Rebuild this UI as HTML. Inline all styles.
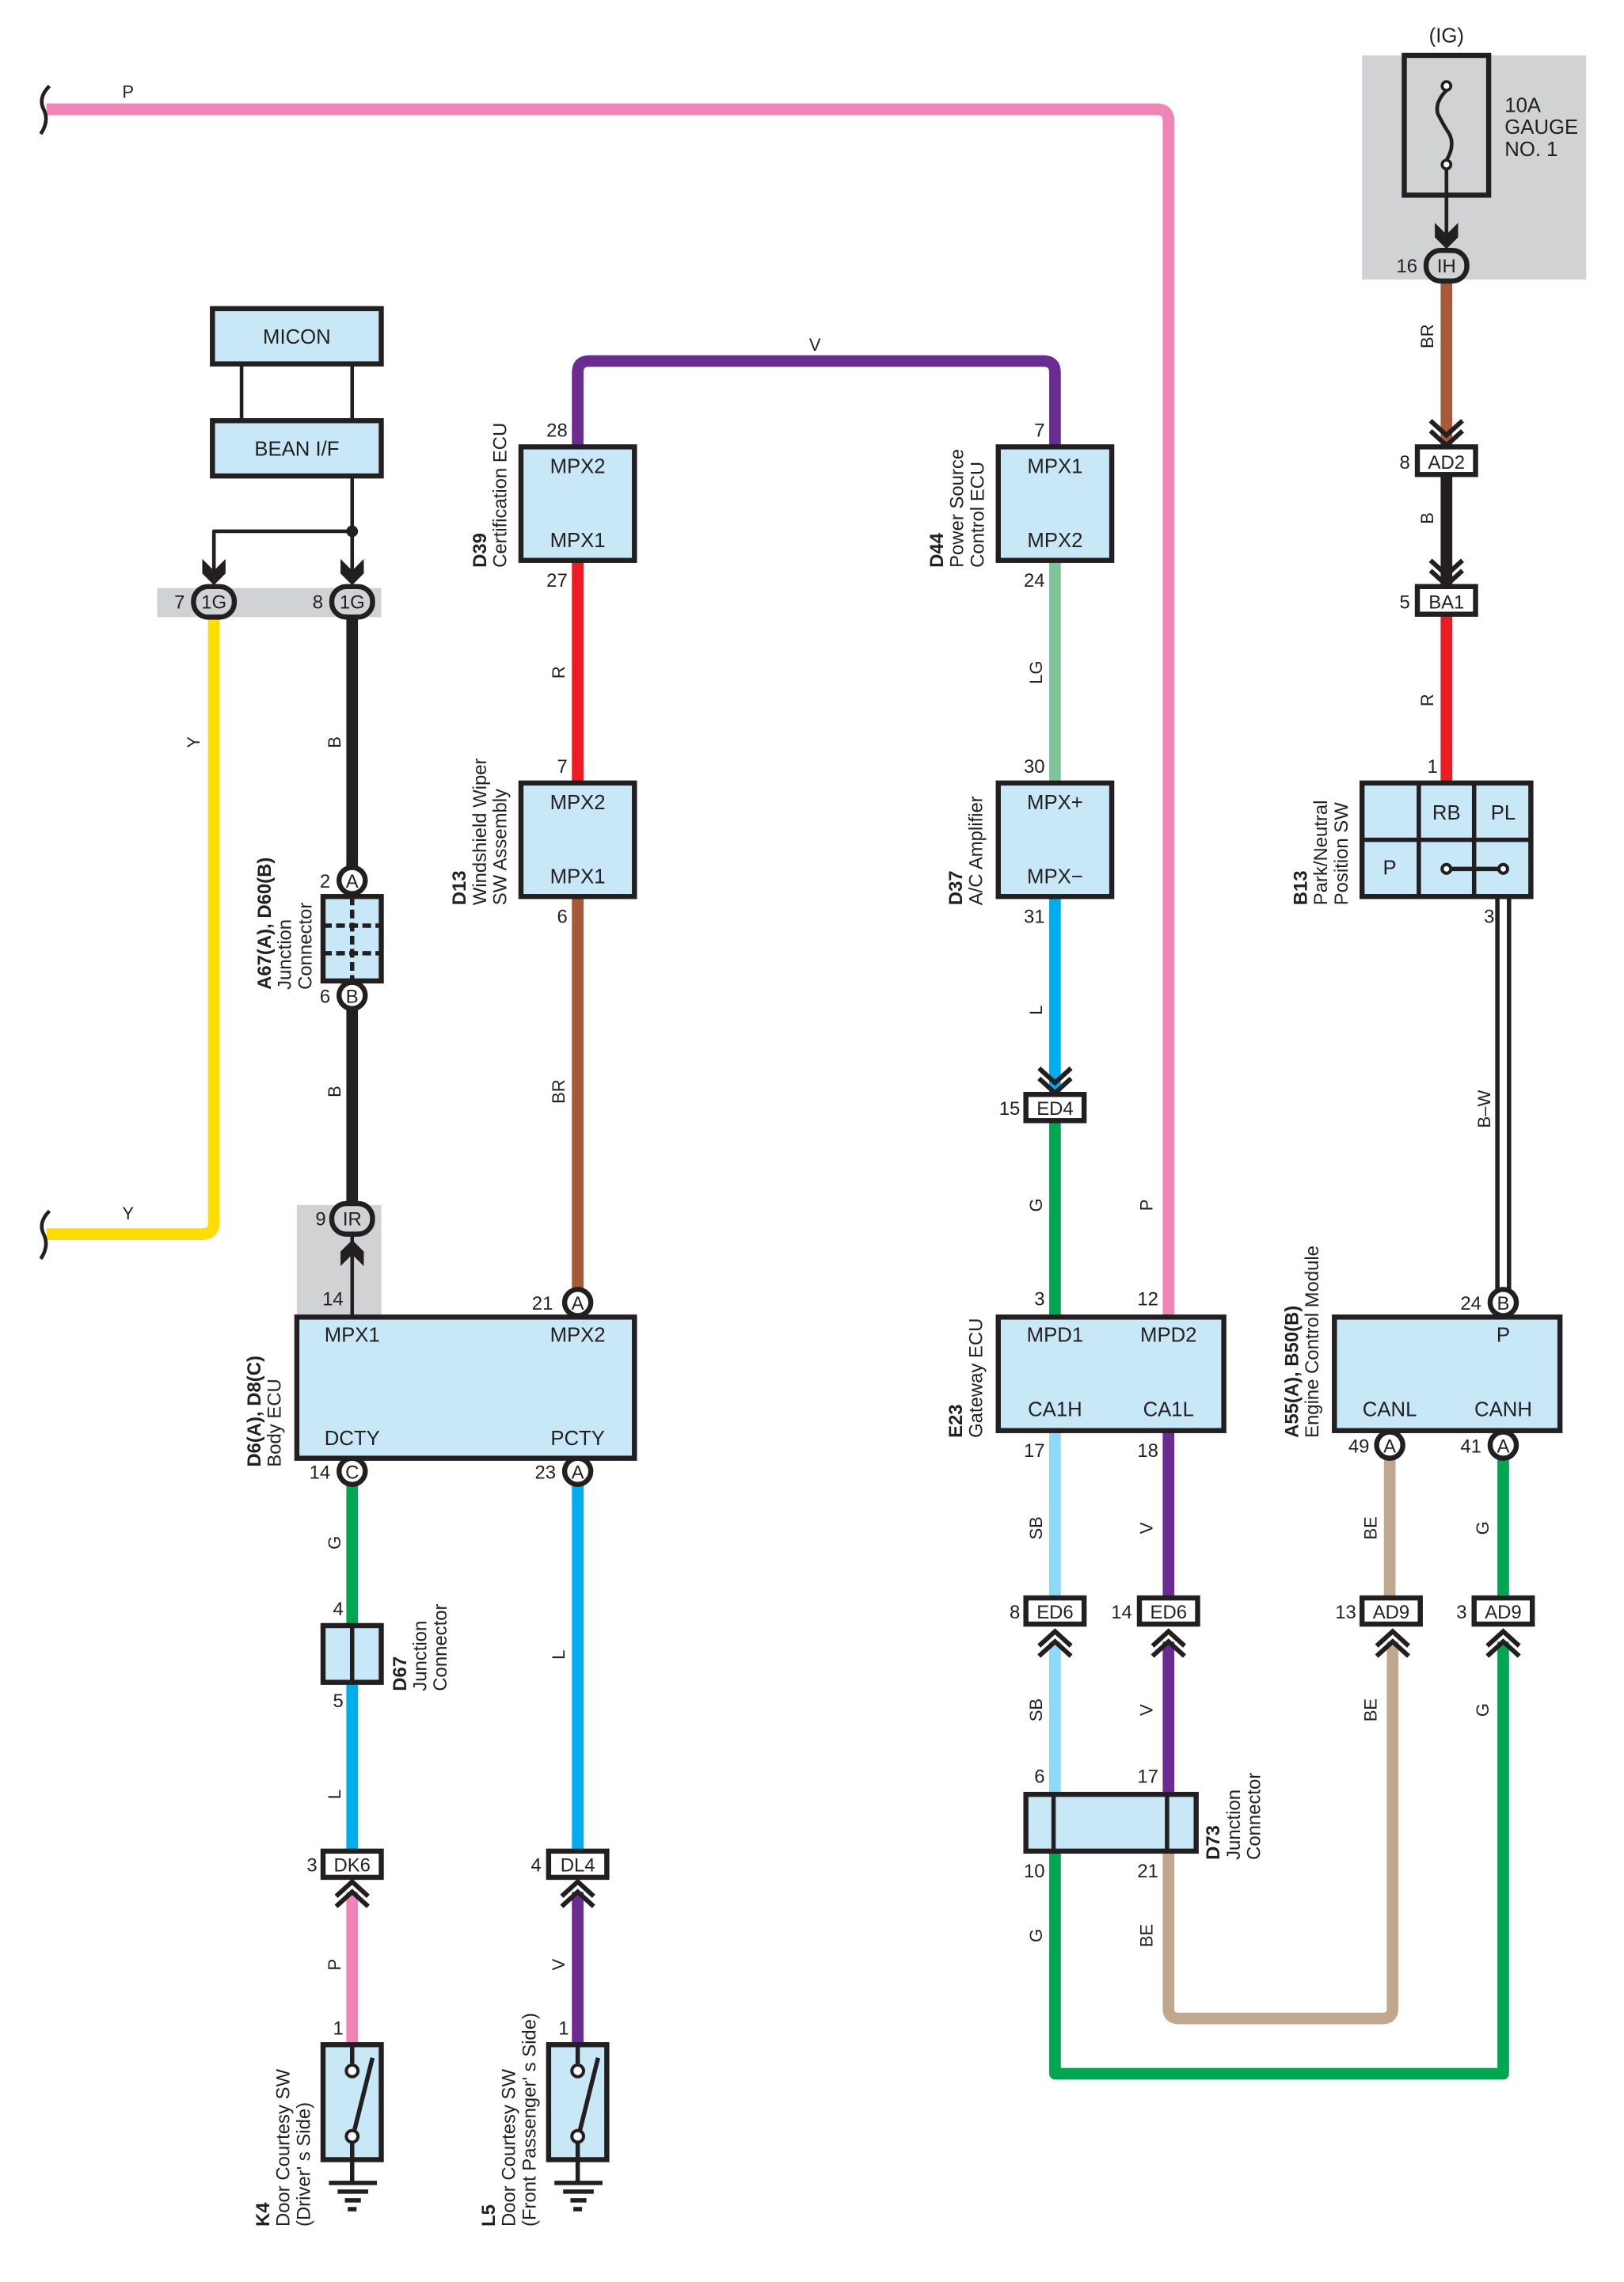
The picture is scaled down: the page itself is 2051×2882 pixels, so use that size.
<!DOCTYPE html>
<html><head><meta charset="utf-8"><style>
html,body{margin:0;padding:0;background:#fff}
svg{display:block}
text{font-family:"Liberation Sans",sans-serif;fill:#231f20}
.b{font-size:14px}.p{font-size:13px}.w{font-size:12px}.l{font-size:13px}.bold{font-weight:bold}
</style></head><body>
<svg width="2051" height="2882" viewBox="0 0 1116 1568" xmlns="http://www.w3.org/2000/svg">
<defs>
<g id="cu"><path d="M-11,10 L0,0 L11,10 M-11,17 L0,7 L11,17" fill="none" stroke="#231f20" stroke-width="3.2"/></g>
<g id="cd"><path d="M-11,-10 L0,0 L11,-10 M-11,-17 L0,-7 L11,-17" fill="none" stroke="#231f20" stroke-width="3.2"/></g>
<g id="ad"><path d="M-8,-14 L-8,-4 L0,4 L8,-4 L8,-14 L0,-6 Z" fill="#231f20"/></g>
<g id="au"><path d="M-8,14 L-8,4 L0,-4 L8,4 L8,14 L0,6 Z" fill="#231f20"/></g>
</defs>
<g fill="none" stroke-linejoin="round" stroke-linecap="butt">
<rect x="108" y="404" width="154" height="20" fill="#d1d2d4"/>
<rect x="204" y="828" width="58" height="77" fill="#d1d2d4"/>
<rect x="936" y="38" width="154" height="154" fill="#d1d2d4"/>
<path d="M32,75 H795 Q803,75 803,83 V905" stroke="#f184b7" stroke-width="8"/>
<path d="M147,424 V840 Q147,848 139,848 H32" stroke="#ffdd00" stroke-width="8"/>
<path d="M242,424 V597 M242,694 V828" stroke="#231f20" stroke-width="8"/>
<path d="M397,307 V256 Q397,248 405,248 H717 Q725,248 725,256 V307" stroke="#6b2c91" stroke-width="8"/>
<path d="M397,385 V538" stroke="#ed1c24" stroke-width="8"/>
<path d="M397,616 V885" stroke="#a65a37" stroke-width="8"/>
<path d="M725,385 V538" stroke="#7fc49a" stroke-width="8"/>
<path d="M725,616 V752" stroke="#00aeef" stroke-width="8"/>
<path d="M725,770 V905" stroke="#00a651" stroke-width="8"/>
<path d="M994,192 V307" stroke="#a65a37" stroke-width="8"/>
<path d="M994,326 V403" stroke="#231f20" stroke-width="8"/>
<path d="M994,422 V538" stroke="#ed1c24" stroke-width="8"/>
<path d="M1029,616 V886 M1037,616 V886" stroke="#231f20" stroke-width="3"/>
<path d="M242,1021 V1117" stroke="#00a651" stroke-width="8"/>
<path d="M242,1156 V1272" stroke="#00aeef" stroke-width="8"/>
<path d="M242,1300 V1405" stroke="#f184b7" stroke-width="8"/>
<path d="M397,1021 V1272" stroke="#00aeef" stroke-width="8"/>
<path d="M397,1300 V1405" stroke="#6b2c91" stroke-width="8"/>
<path d="M725,983 V1098 M725,1128 V1233" stroke="#8ed8f8" stroke-width="8"/>
<path d="M803,983 V1098 M803,1128 V1233" stroke="#6b2c91" stroke-width="8"/>
<path d="M725,1272 V1425 H1033 V1128 M1033,1003 V1098" stroke="#00a651" stroke-width="8"/>
<path d="M803,1272 V1380 Q803,1387 810,1387 H950 Q957,1387 957,1380 V1128 M955,1003 V1098" stroke="#bfa88e" stroke-width="8"/>
<path d="M34,59 Q26,67 30,75 Q34,83 28,92" stroke="#231f20" stroke-width="2.5"/>
<path d="M34,832 Q26,840 30,848 Q34,856 28,865" stroke="#231f20" stroke-width="2.5"/>
<path d="M166,250 V289 M242,250 V289 M242,327 V398 M242,365 H147 V398 M242,848 V905 M994,116 V168" stroke="#231f20" stroke-width="2.5"/>
</g>
<circle cx="242" cy="365" r="4" fill="#231f20"/>
<use href="#ad" x="147" y="398"/><use href="#ad" x="242" y="398"/>
<use href="#au" x="242" y="856"/><use href="#ad" x="994" y="167"/>
<use href="#cd" x="994" y="306"/><use href="#cd" x="994" y="402"/><use href="#cd" x="725" y="751"/>
<use href="#cu" x="242" y="1293"/><use href="#cu" x="397" y="1293"/>
<use href="#cu" x="725" y="1121"/><use href="#cu" x="803" y="1121"/><use href="#cu" x="957" y="1121"/><use href="#cu" x="1033" y="1121"/>
<g fill="#c8e8f8" stroke="#231f20" stroke-width="3.5">
<rect x="146" y="212" width="116" height="38"/>
<rect x="146" y="289" width="116" height="38"/>
<rect x="358" y="307" width="78" height="78"/>
<rect x="358" y="538" width="78" height="78"/>
<rect x="686" y="307" width="78" height="78"/>
<rect x="686" y="538" width="78" height="78"/>
<rect x="936" y="538" width="116" height="78"/>
<rect x="222" y="616" width="40" height="58"/>
<rect x="204" y="905" width="232" height="97"/>
<rect x="686" y="905" width="155" height="78"/>
<rect x="917" y="905" width="155" height="78"/>
<rect x="222" y="1117" width="40" height="39"/>
<rect x="705" y="1233" width="117" height="39"/>
<rect x="222" y="1405" width="40" height="79"/>
<rect x="377" y="1405" width="40" height="79"/>
</g>
<rect x="965" y="38" width="58" height="96" fill="none" stroke="#231f20" stroke-width="3.5"/>
<path d="M994,62 Q986,70 988,78 Q992,86 996,92 Q1000,100 994,110" fill="none" stroke="#231f20" stroke-width="2.5"/>
<g fill="#fff" stroke="#231f20" stroke-width="2"><circle cx="994" cy="59" r="3"/><circle cx="994" cy="113" r="3"/></g>
<g stroke="#231f20" stroke-width="3" fill="none">
<path d="M975,538 V616 M1013,538 V616 M936,577 H1052"/>
<path d="M994,597 H1033"/>
<path d="M222,636 H262 M222,655 H262 M242,616 V674" stroke-dasharray="6,3"/>
<path d="M242,1117 V1156"/>
<path d="M724,1233 V1272 M802,1233 V1272"/>
<path d="M242,1405 V1418 M242,1472 V1500 M256,1414 L242,1470 M397,1405 V1418 M397,1472 V1500 M411,1414 L397,1470"/>
<path d="M226,1500 H259 M232,1506 H253 M237,1512 H248 M239,1518 H245 M381,1500 H414 M387,1506 H408 M392,1512 H403 M394,1518 H400"/>
</g>
<g fill="#fff" stroke="#231f20" stroke-width="2.2"><circle cx="994" cy="597" r="3"/><circle cx="1033" cy="597" r="3"/><circle cx="242" cy="1423" r="4"/><circle cx="242" cy="1468" r="4"/><circle cx="397" cy="1423" r="4"/><circle cx="397" cy="1468" r="4"/></g>
<g fill="#d1d2d4" stroke="#231f20" stroke-width="3.5">
<rect x="133" y="403" width="28" height="21" rx="10"/>
<rect x="228" y="403" width="28" height="21" rx="10"/>
<rect x="228" y="827" width="28" height="21" rx="10"/>
<rect x="980" y="172" width="28" height="21" rx="10"/>
</g>
<g fill="#fff" stroke="#231f20" stroke-width="3.5">
<circle cx="242" cy="605" r="9"/><circle cx="242" cy="684" r="9"/>
<circle cx="397" cy="895" r="9"/><circle cx="242" cy="1011" r="9"/><circle cx="397" cy="1011" r="9"/>
<circle cx="1033" cy="895" r="9"/><circle cx="955" cy="993" r="9"/><circle cx="1033" cy="993" r="9"/>
<rect x="974" y="307" width="40" height="19"/><rect x="974" y="403" width="40" height="19"/>
<rect x="705" y="752" width="40" height="18"/>
<rect x="705" y="1098" width="40" height="18"/><rect x="783" y="1098" width="40" height="18"/>
<rect x="936" y="1098" width="40" height="18"/><rect x="1013" y="1098" width="40" height="18"/>
<rect x="222" y="1272" width="40" height="18"/><rect x="377" y="1272" width="40" height="18"/>
</g>
<g class="p" text-anchor="middle">
<text x="147" y="418">1G</text><text x="242" y="418">1G</text><text x="242" y="842">IR</text><text x="994" y="187">IH</text>
<text x="242" y="610">A</text><text x="242" y="689">B</text><text x="397" y="900">A</text><text x="242" y="1016">C</text><text x="397" y="1016">A</text>
<text x="1033" y="900">B</text><text x="955" y="998">A</text><text x="1033" y="998">A</text>
<text x="994" y="322">AD2</text><text x="994" y="418">BA1</text><text x="725" y="766">ED4</text>
<text x="725" y="1112">ED6</text><text x="803" y="1112">ED6</text><text x="956" y="1112">AD9</text><text x="1033" y="1112">AD9</text>
<text x="242" y="1286">DK6</text><text x="397" y="1286">DL4</text>
</g>
<g class="b" text-anchor="middle">
<text x="204" y="236">MICON</text><text x="204" y="313">BEAN I/F</text>
<text x="397" y="325">MPX2</text><text x="397" y="376">MPX1</text>
<text x="397" y="556">MPX2</text><text x="397" y="607">MPX1</text>
<text x="725" y="325">MPX1</text><text x="725" y="376">MPX2</text>
<text x="725" y="556">MPX+</text><text x="725" y="607">MPX−</text>
<text x="994" y="563">RB</text><text x="1033" y="563">PL</text><text x="955" y="601">P</text>
<text x="242" y="922">MPX1</text><text x="397" y="922">MPX2</text><text x="242" y="993">DCTY</text><text x="397" y="993">PCTY</text>
<text x="725" y="922">MPD1</text><text x="803" y="922">MPD2</text><text x="725" y="973">CA1H</text><text x="803" y="973">CA1L</text>
<text x="1033" y="922">P</text><text x="955" y="973">CANL</text><text x="1033" y="973">CANH</text>
<text x="994" y="29">(IG)</text>
</g>
<text class="b" x="1034" y="77">10A</text><text class="b" x="1034" y="92">GAUGE</text><text class="b" x="1034" y="107">NO. 1</text>
<g class="p" text-anchor="end">
<text x="127" y="418">7</text><text x="222" y="418">8</text><text x="227" y="610">2</text><text x="227" y="689">6</text>
<text x="224" y="842">9</text><text x="236" y="897">14</text><text x="380" y="900">21</text><text x="227" y="1016">14</text><text x="382" y="1016">23</text>
<text x="236" y="1110">4</text><text x="236" y="1173">5</text><text x="218" y="1286">3</text><text x="372" y="1286">4</text>
<text x="236" y="1398">1</text><text x="391" y="1398">1</text>
<text x="390" y="300">28</text><text x="390" y="403">27</text><text x="390" y="531">7</text><text x="390" y="634">6</text>
<text x="718" y="300">7</text><text x="718" y="403">24</text><text x="718" y="531">30</text><text x="718" y="634">31</text>
<text x="701" y="766">15</text><text x="718" y="897">3</text><text x="796" y="897">12</text><text x="718" y="1001">17</text><text x="796" y="1001">18</text>
<text x="701" y="1112">8</text><text x="778" y="1112">14</text><text x="718" y="1225">6</text><text x="796" y="1225">17</text>
<text x="718" y="1290">10</text><text x="796" y="1290">21</text>
<text x="974" y="187">16</text><text x="969" y="322">8</text><text x="969" y="418">5</text><text x="988" y="531">1</text><text x="1027" y="634">3</text>
<text x="1018" y="900">24</text><text x="941" y="998">49</text><text x="1018" y="998">41</text>
<text x="932" y="1112">13</text><text x="1008" y="1112">3</text>
</g>
<g class="w" text-anchor="middle">
<text x="88" y="67">P</text><text x="88" y="838">Y</text><text x="560" y="241">V</text>
</g>
<g class="w" text-anchor="middle">
<text transform="translate(137,510) rotate(-90)">Y</text>
<text transform="translate(234,510) rotate(-90)">B</text>
<text transform="translate(234,750) rotate(-90)">B</text>
<text transform="translate(388,462) rotate(-90)">R</text>
<text transform="translate(388,750) rotate(-90)">BR</text>
<text transform="translate(388,1137) rotate(-90)">L</text>
<text transform="translate(234,1060) rotate(-90)">G</text>
<text transform="translate(234,1233) rotate(-90)">L</text>
<text transform="translate(234,1350) rotate(-90)">P</text>
<text transform="translate(388,1350) rotate(-90)">V</text>
<text transform="translate(716,462) rotate(-90)">LG</text>
<text transform="translate(716,694) rotate(-90)">L</text>
<text transform="translate(716,828) rotate(-90)">G</text>
<text transform="translate(792,828) rotate(-90)">P</text>
<text transform="translate(716,1050) rotate(-90)">SB</text>
<text transform="translate(716,1175) rotate(-90)">SB</text>
<text transform="translate(792,1050) rotate(-90)">V</text>
<text transform="translate(792,1175) rotate(-90)">V</text>
<text transform="translate(716,1330) rotate(-90)">G</text>
<text transform="translate(792,1330) rotate(-90)">BE</text>
<text transform="translate(946,1050) rotate(-90)">BE</text>
<text transform="translate(946,1175) rotate(-90)">BE</text>
<text transform="translate(1023,1050) rotate(-90)">G</text>
<text transform="translate(1023,1175) rotate(-90)">G</text>
<text transform="translate(985,231) rotate(-90)">BR</text>
<text transform="translate(985,356) rotate(-90)">B</text>
<text transform="translate(985,481) rotate(-90)">R</text>
<text transform="translate(1024,762) rotate(-90)">B–W</text>
</g>
<g class="l">
<g transform="translate(334,390) rotate(-90)"><text class="bold" x="0" y="0">D39</text><text x="0" y="14">Certification ECU</text></g>
<g transform="translate(320,622) rotate(-90)"><text class="bold" x="0" y="0">D13</text><text x="0" y="14">Windshield Wiper</text><text x="0" y="28">SW Assembly</text></g>
<g transform="translate(648,390) rotate(-90)"><text class="bold" x="0" y="0">D44</text><text x="0" y="14">Power Source</text><text x="0" y="28">Control ECU</text></g>
<g transform="translate(661,622) rotate(-90)"><text class="bold" x="0" y="0">D37</text><text x="0" y="14">A/C Amplifier</text></g>
<g transform="translate(898,622) rotate(-90)"><text class="bold" x="0" y="0">B13</text><text x="0" y="14">Park/Neutral</text><text x="0" y="28">Position SW</text></g>
<g transform="translate(186,680) rotate(-90)"><text class="bold" x="0" y="0">A67(A), D60(B)</text><text x="0" y="14">Junction</text><text x="0" y="28">Connector</text></g>
<g transform="translate(179,1008) rotate(-90)"><text class="bold" x="0" y="0">D6(A), D8(C)</text><text x="0" y="14">Body ECU</text></g>
<g transform="translate(661,988) rotate(-90)"><text class="bold" x="0" y="0">E23</text><text x="0" y="14">Gateway ECU</text></g>
<g transform="translate(892,988) rotate(-90)"><text class="bold" x="0" y="0">A55(A), B50(B)</text><text x="0" y="14">Engine Control Module</text></g>
<g transform="translate(279,1162) rotate(-90)"><text class="bold" x="0" y="0">D67</text><text x="0" y="14">Junction</text><text x="0" y="28">Connector</text></g>
<g transform="translate(838,1278) rotate(-90)"><text class="bold" x="0" y="0">D73</text><text x="0" y="14">Junction</text><text x="0" y="28">Connector</text></g>
<g transform="translate(185,1530) rotate(-90)"><text class="bold" x="0" y="0">K4</text><text x="0" y="14">Door Courtesy SW</text><text x="0" y="28">(Driver' s Side)</text></g>
<g transform="translate(340,1530) rotate(-90)"><text class="bold" x="0" y="0">L5</text><text x="0" y="14">Door Courtesy SW</text><text x="0" y="28">(Front Passenger' s Side)</text></g>
</g>
</svg>
</body></html>
